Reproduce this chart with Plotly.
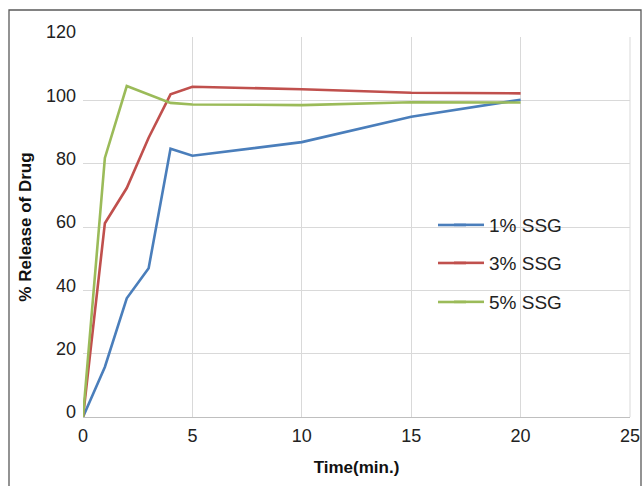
import plotly.graph_objects as go

time = [0, 1, 2, 3, 4, 5, 10, 15, 20]
ssg1 = [0, 15.8, 37.5, 47.0, 84.7, 82.5, 86.8, 94.8, 100.2]
ssg3 = [0, 61.2, 72.3, 88.2, 101.9, 104.3, 103.5, 102.4, 102.2]
ssg5 = [0, 81.8, 104.5, 101.8, 99.2, 98.7, 98.5, 99.4, 99.3]
names = ["1% SSG", "3% SSG", "5% SSG"]
colors = ["#4A7EBB", "#C0504D", "#9BBB59"]

fig = go.Figure()
legends = ["legend", "legend2", "legend3"]
for ys, nm, c, lg in zip([ssg1, ssg3, ssg5], names, colors, legends):
    fig.add_trace(go.Scatter(x=time, y=ys, mode="lines", name=nm,
                             line=dict(color=c, width=2.6), legend=lg))

L, R, T, B = 83, 13, 37, 69
W, H = 643, 486
pw, ph = W - L - R, H - T - B

def px2paper_x(px):
    return (px - L) / pw

def px2paper_y(py):
    return (H - B - py) / ph

leg_rows = [225, 263, 302]
leg_font = dict(family="Liberation Sans, Arial, sans-serif", size=19, color="#222")
leg_common = dict(bgcolor="rgba(0,0,0,0)", font=leg_font, xanchor="left", yanchor="middle",
                  x=px2paper_x(449))
layout_legs = {}
for lg, py in zip(legends, leg_rows):
    layout_legs[lg] = dict(leg_common, y=px2paper_y(py))

fig.update_layout(
    width=W, height=H, autosize=False,
    margin=dict(l=L, r=R, t=T, b=B, autoexpand=False),
    paper_bgcolor="white", plot_bgcolor="white",
    font=dict(family="Liberation Sans, Arial, sans-serif", size=18, color="#222"),
    showlegend=True,
    **layout_legs,
    xaxis=dict(range=[0, 25], tickvals=[0, 5, 10, 15, 20, 25], showgrid=True,
               gridcolor="#D9D9D9", gridwidth=1, zeroline=False, automargin=False,
               showline=True, linecolor="#BFBFBF", linewidth=1, mirror=False,
               ticks="", tickfont=dict(size=18), ticklabelstandoff=2,
               title=dict(text="<b>Time(min.)</b>", font=dict(size=17, color="#111"), standoff=16)),
    yaxis=dict(range=[0, 120], tickvals=[0, 20, 40, 60, 80, 100, 120], showgrid=True,
               gridcolor="#D9D9D9", gridwidth=1, zeroline=False, automargin=False,
               showline=False, ticks="", tickfont=dict(size=18), ticklabelshift=-5,
               ticklabelstandoff=6,
               title=dict(text="<b>% Release of Drug</b>", font=dict(size=17, color="#111"), standoff=10)),
)
# extend legend line samples to the left
for py, c in zip(leg_rows, colors):
    fig.add_shape(type="line", xref="paper", yref="paper",
                  x0=px2paper_x(438), x1=px2paper_x(466), y0=px2paper_y(py), y1=px2paper_y(py),
                  line=dict(color=c, width=2.6))
# right-edge gridline at 25 and outer frame
fig.add_shape(type="line", xref="paper", yref="paper", x0=1, x1=1, y0=0, y1=1,
              line=dict(color="#D9D9D9", width=1))
fig.add_shape(type="rect", xref="paper", yref="paper",
              x0=px2paper_x(9), x1=px2paper_x(641), y0=px2paper_y(495), y1=px2paper_y(10),
              line=dict(color="#595959", width=1.3), fillcolor="rgba(0,0,0,0)", layer="below")

fig.write_html("out.html", config={"responsive": False})
